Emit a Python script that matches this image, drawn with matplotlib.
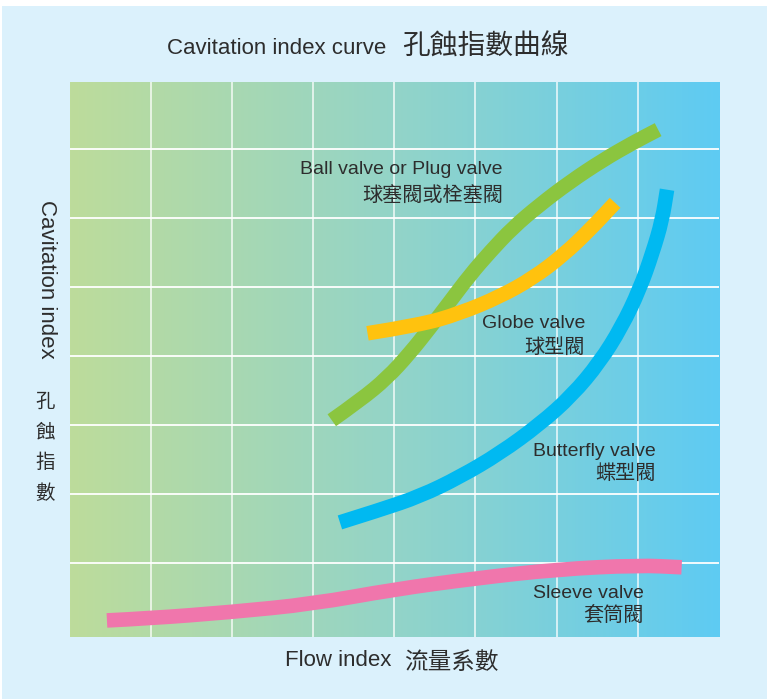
import matplotlib
matplotlib.use('Agg')
import matplotlib.pyplot as plt
import matplotlib.patches as mpatches
from matplotlib.path import Path
import numpy as np
from matplotlib.colors import LinearSegmentedColormap

plt.rcParams['font.family'] = ['Liberation Sans', 'Noto Sans CJK TC', 'DejaVu Sans']

# 曲線資料 (由原圖估讀, x: 0~8, y: 0~8)
ball_x = [3.23, 3.58, 3.91, 4.19, 4.44, 4.68, 4.93, 5.18, 5.46, 5.79, 6.16, 6.57, 6.94, 7.25]
ball_y = [3.07, 3.36, 3.68, 4.04, 4.41, 4.78, 5.17, 5.51, 5.86, 6.19, 6.52, 6.84, 7.09, 7.28]

globe_x = [3.67, 4.32, 4.81, 5.30, 5.71, 6.08, 6.41, 6.72]
globe_y = [4.33, 4.45, 4.62, 4.86, 5.13, 5.46, 5.83, 6.22]

butterfly_x = [3.33, 3.82, 4.32, 4.81, 5.30, 5.79, 6.19, 6.53, 6.80, 7.02, 7.18, 7.30, 7.36]
butterfly_y = [1.59, 1.77, 1.97, 2.25, 2.59, 3.01, 3.43, 3.91, 4.42, 4.96, 5.49, 5.97, 6.41]

sleeve_x = [0.46, 0.98, 1.98, 3.00, 4.00, 5.00, 6.00, 7.01, 7.54]
sleeve_y = [0.17, 0.20, 0.29, 0.41, 0.62, 0.78, 0.91, 0.97, 0.94]

title_en = 'Cavitation index curve'
title_zh = '孔蝕指數曲線'
xlabel_en = 'Flow index'
xlabel_zh = '流量系數'
ylabel_en = 'Cavitation index'
ylabel_zh = ['孔', '蝕', '指', '數']

W, H = 767, 699
fig = plt.figure(figsize=(W / 100, H / 100), dpi=100)
fig.patch.set_facecolor('white')
fig.patches.append(mpatches.Rectangle((2 / W, 0), 1, 1 - 6 / H, transform=fig.transFigure,
                                      facecolor='#dbf1fc', edgecolor='none', zorder=-10))

def fx(px):
    return px / W

def fy(py):
    return 1 - py / H

ax = fig.add_axes([fx(69.6), fy(637), fx(719) - fx(69.6), fy(82) - fy(637)])
ylo, yhi = -0.07, 7.97
ax.set_xlim(0, 8)
ax.set_ylim(ylo, yhi)

# 背景漸層
cmap = LinearSegmentedColormap.from_list('bg', ['#bddc9b', '#93d4c8', '#5ecbf3'])
grad = np.linspace(0, 1, 256).reshape(1, -1)
ax.imshow(grad, cmap=cmap, extent=[0, 8, ylo, yhi], aspect='auto', zorder=0)

ax.set_xticks(range(1, 8))
ax.set_yticks(range(1, 8))
ax.tick_params(length=0, labelbottom=False, labelleft=False)
ax.xaxis.grid(True, color='white', lw=1.3, alpha=0.75)
ax.yaxis.grid(True, color='white', lw=1.3)
ax.set_axisbelow(True)
for s in ax.spines.values():
    s.set_visible(False)


def smooth_curve(xs, ys, color):
    # 以二次貝茲曲線平滑連接讀取點
    pts = list(zip(xs, ys))
    verts = [pts[0]]
    codes = [Path.MOVETO]
    for i in range(1, len(pts) - 1):
        mid = ((pts[i][0] + pts[i + 1][0]) / 2, (pts[i][1] + pts[i + 1][1]) / 2)
        verts += [pts[i], mid]
        codes += [Path.CURVE3, Path.CURVE3]
    verts.append(pts[-1])
    codes.append(Path.LINETO)
    patch = mpatches.PathPatch(Path(verts, codes), facecolor='none', edgecolor=color,
                               lw=10.5, capstyle='butt', joinstyle='round', zorder=3)
    ax.add_patch(patch)


smooth_curve(sleeve_x, sleeve_y, '#f076ac')
smooth_curve(butterfly_x, butterfly_y, '#00b9f1')
smooth_curve(ball_x, ball_y, '#8bc53f')
smooth_curve(globe_x, globe_y, '#ffc20e')

tc = '#2d2d2d'
# 標題
fig.text(fx(386), fy(48), title_en, ha='right', va='center', fontsize=16, color=tc)
fig.text(fx(402), fy(47), title_zh, ha='left', va='center', fontsize=20, color=tc,
         family=['Noto Sans CJK TC'], fontweight='medium')

# x 軸標題
fig.text(fx(391), fy(661), xlabel_en, ha='right', va='center', fontsize=16, color=tc)
fig.text(fx(404), fy(662), xlabel_zh, ha='left', va='center', fontsize=17, color=tc,
         family=['Noto Sans CJK TC'])

# y 軸標題
fig.text(fx(46), fy(279), ylabel_en, ha='center', va='center', fontsize=16, color=tc,
         rotation=270)
for ch, py in zip(ylabel_zh, [401, 432, 463, 494]):
    fig.text(fx(45), fy(py), ch, ha='center', va='center', fontsize=14, color=tc,
             family=['Noto Sans CJK TC'])

# 曲線標籤
labels = [
    ('Ball valve or Plug valve', '球塞閥或栓塞閥', 503, 169, 195),
    ('Globe valve', '球型閥', 585, 323, 347),
    ('Butterfly valve', '蝶型閥', 656, 451, 473),
    ('Sleeve valve', '套筒閥', 644, 593, 615),
]
for en, zh, xr, y1, y2 in labels:
    fig.text(fx(xr), fy(y1), en, ha='right', va='center', fontsize=14, color=tc)
    fig.text(fx(xr), fy(y2), zh, ha='right', va='center', fontsize=14.5, color=tc,
             family=['Noto Sans CJK TC'])

fig.savefig('out.png', dpi=100)
